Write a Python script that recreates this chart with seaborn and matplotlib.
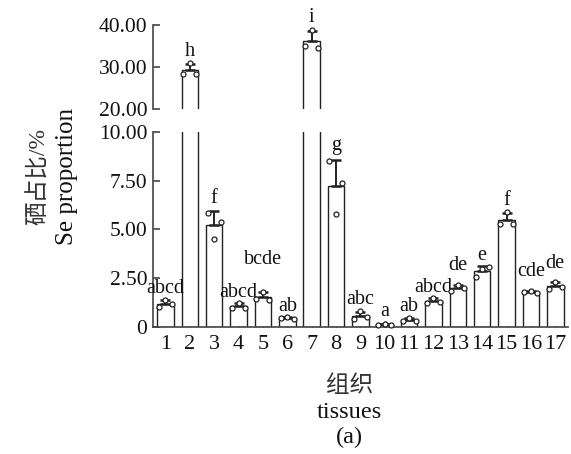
import numpy as np
import pandas as pd
import seaborn as sns
import matplotlib.pyplot as plt
from matplotlib.collections import PathCollection
from matplotlib.ticker import FormatStrFormatter

# ---------------- data ----------------
tissues = [str(i) for i in range(1, 18)]
rep1 = [1.00, 28.4, 5.85, 0.95, 1.45, 0.45, 34.9, 8.50, 0.40, 0.10, 0.30, 1.25, 1.85, 2.55, 5.30, 1.80, 1.95]
rep2 = [1.40, 31.0, 4.50, 1.25, 1.80, 0.50, 38.9, 5.80, 0.80, 0.15, 0.45, 1.50, 2.15, 2.95, 5.90, 1.85, 2.30]
rep3 = [1.20, 28.3, 5.40, 0.95, 1.40, 0.40, 34.5, 7.40, 0.50, 0.12, 0.30, 1.30, 2.00, 3.05, 5.30, 1.75, 2.05]
letters = ["abcd", "h", "f", "abcd", "bcde", "ab", "i", "g", "abc", "a",
           "ab", "abcd", "de", "e", "f", "cde", "de"]
label_lift = [1, 2, 2, 1, 17, 1, 3, 3, 2, 2, 2, 1, 7, 1, 2, 7, 7]

upper_ticks = [20, 30, 40]
lower_ticks = [0, 2.5, 5, 7.5, 10]
lower_ticklabels = ["0", "2.50", "5.00", "7.50", "10.00"]

reps = ["r1", "r2", "r3"]
df = pd.DataFrame({
    "tissue": tissues * 3,
    "rep": [r for r in reps for _ in tissues],
    "value": rep1 + rep2 + rep3,
})
stats = df.groupby("tissue", sort=False)["value"].agg(["mean", "std"]).reindex(tissues)
means = stats["mean"].to_numpy()
sds = stats["std"].to_numpy()
pos = np.arange(len(tissues))

# ---------------- style ----------------
sns.set_style("ticks")
plt.rcParams["font.family"] = ["Liberation Serif", "Noto Sans CJK SC"]
plt.rcParams["axes.edgecolor"] = "#444444"
FS = 15.5
ink = "#222222"

fig = plt.figure(figsize=(5.71, 4.54), dpi=100)
ax_top = fig.add_axes([0.268, 0.760, 0.727, 0.185])
ax_bot = fig.add_axes([0.268, 0.280, 0.727, 0.429])

for ax, (lo, hi) in [(ax_top, (20, 40)), (ax_bot, (0, 10))]:
    sns.barplot(data=df, x="tissue", y="value", order=tissues, errorbar=None,
                width=0.68, color="white", saturation=1, edgecolor=ink,
                linewidth=1.0, ax=ax, zorder=2)
    sel = (means >= lo) & (means <= hi)
    ax.errorbar(pos[sel], means[sel], yerr=[np.zeros(sel.sum()), sds[sel]],
                fmt="none", ecolor=ink, elinewidth=1.4, capsize=3.5,
                capthick=1.8, zorder=3, clip_on=False)
    sub = df[(df["value"] >= lo) & (df["value"] <= hi)]
    sns.stripplot(data=sub, x="tissue", y="value", order=tissues, hue="rep",
                  hue_order=reps, dodge=True, jitter=False,
                  palette=["white"] * 3, edgecolor=ink, linewidth=0.9,
                  size=3.6, legend=False, ax=ax, zorder=4)
    for c in ax.collections:
        if isinstance(c, PathCollection):
            if len(c.get_offsets()) > 0:
                c.set_clip_on(False)
            else:
                c.set_visible(False)
    for i in np.where(sel)[0]:
        ax.annotate(letters[i], (pos[i], means[i] + sds[i]),
                    xytext=(0, label_lift[i]), textcoords="offset points",
                    ha="center", va="bottom", fontsize=14.5, color="#111111")
    ax.set_ylim(lo, hi)
    ax.set_xlim(-0.51, 16.53)
    ax.set_xlabel("")
    ax.set_ylabel("")
    for s in ["top", "right"]:
        ax.spines[s].set_visible(False)
    ax.spines["left"].set_linewidth(1.2)
    ax.spines["bottom"].set_linewidth(1.2)
    ax.tick_params(axis="y", direction="in", length=5, width=1.2,
                   labelsize=FS, pad=4, colors="#444444", labelcolor="#111111")

ax_top.spines["bottom"].set_visible(False)
ax_top.set_xticks([])
ax_top.set_yticks(upper_ticks)
ax_top.yaxis.set_major_formatter(FormatStrFormatter("%.2f"))

ax_bot.set_yticks(lower_ticks)
ax_bot.set_yticklabels(lower_ticklabels)
ax_bot.set_xticks(pos)
ax_bot.set_xticklabels(tissues)
ax_bot.tick_params(axis="x", direction="in", length=4, width=1.0,
                   labelsize=16, pad=6, colors="#444444", labelcolor="#111111")

# axis titles
fig.text(0.068, 0.612, "硒占比/%", rotation=90, ha="center", va="center",
         fontsize=17, color="#333333")
fig.text(0.118, 0.612, "Se proportion", rotation=90, ha="center", va="center",
         fontsize=18, color="#111111")
fig.text(0.612, 1 - 386 / 454, "组织", ha="center", va="center",
         fontsize=17, color="#333333")
fig.text(0.612, 1 - 412 / 454, "tissues", ha="center", va="center",
         fontsize=17.5, color="#111111")
fig.text(0.612, 1 - 437 / 454, "(a)", ha="center", va="center",
         fontsize=17.5, color="#111111")

fig.savefig("out.png", dpi=100)
